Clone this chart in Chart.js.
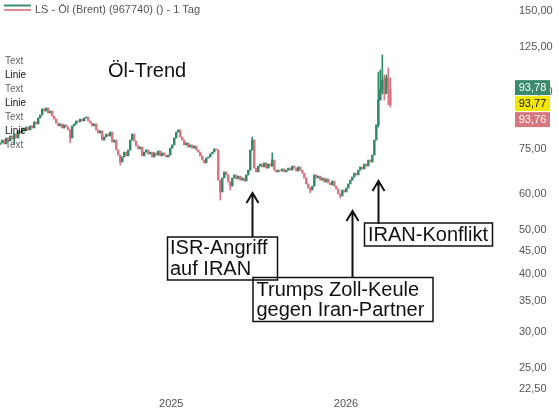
<!DOCTYPE html>
<html lang="de">
<head>
<meta charset="UTF-8">
<title>Öl-Trend</title>
<script src="https://cdn.jsdelivr.net/npm/chart.js"></script>
<style>
    body { margin: 0; background: #fff; }
    canvas { display: block; }
</style>
</head>
<body>
<canvas id="chart" width="559" height="412"></canvas>
<script>
// Brent daily closes, one sample every ~4 calendar days (Jan 2024 - Apr 2026)
const closes = [
    77.4, 78.5, 77.0, 79.3, 78.1, 80.1, 78.9, 80.9, 79.3, 82.2,
    81.3, 83.4, 82.2, 83.8, 82.6, 84.3, 83.4, 86.0, 85.1, 87.7,
    89.0, 91.8, 90.8, 92.2, 89.9, 90.8, 88.5, 87.2, 85.5, 84.3,
    85.1, 83.4, 84.7, 83.8, 82.6, 79.3, 84.3, 85.1, 86.4, 86.0,
    87.2, 86.4, 87.7, 88.1, 86.4, 85.5, 84.3, 85.1, 82.6, 81.3,
    82.2, 78.5, 79.7, 80.9, 80.1, 81.7, 77.7, 78.5, 74.7, 72.8,
    70.3, 72.1, 73.9, 72.5, 74.7, 78.5, 80.9, 78.1, 76.2, 75.1,
    75.8, 72.5, 73.9, 74.7, 73.2, 73.9, 72.1, 73.6, 72.8, 74.3,
    72.5, 73.6, 72.8, 72.1, 72.8, 75.4, 76.6, 79.3, 81.7, 82.6,
    79.7, 78.5, 76.6, 77.4, 75.8, 76.6, 75.4, 76.2, 74.7, 73.9,
    72.5, 71.0, 70.0, 71.7, 72.1, 73.2, 73.9, 75.1, 74.7, 64.2,
    60.5, 64.9, 66.9, 65.9, 63.6, 62.3, 64.9, 65.9, 64.6, 65.5,
    64.2, 64.9, 63.9, 65.9, 67.5, 74.7, 78.5, 68.2, 66.9, 68.9,
    69.6, 68.6, 70.0, 68.2, 69.6, 68.9, 71.0, 67.5, 66.9, 67.5,
    67.2, 67.9, 66.9, 67.5, 68.2, 67.5, 68.9, 68.2, 67.2, 68.6,
    67.5, 66.5, 64.9, 63.0, 61.7, 61.1, 62.3, 65.9, 64.9, 65.5,
    64.2, 64.9, 63.6, 64.6, 63.3, 62.7, 63.9, 62.3, 61.4, 59.9,
    59.3, 61.1, 60.5, 61.7, 63.0, 64.2, 65.2, 66.5, 65.9, 67.5,
    68.6, 67.9, 69.6, 68.9, 71.0, 70.3, 72.8, 78.5, 84.7, 96.0,
    101.4, 106.1, 99.4, 107.2, 101.4, 93.77
];
const firstOpen = 76.8;

// candles with long shadows: [sample, low, high]
const wicks = [
    [7, 76.6, 80.9], [35, 77.4, 82.6], [60, 69.3, 72.8], [110, 58.1, 64.2],
    [115, 61.1, 63.6], [126, 74.7, 79.7], [136, 68.9, 73.6], [155, 60.2, 61.7],
    [170, 58.7, 59.9], [189, 83.8, 110.4], [190, 96.0, 111.6], [191, 98.9, 120.3],
    [192, 96.0, 108.8], [193, 99.0, 108.8], [194, 93.6, 112.7], [195, 92.6, 107.2]
];

const startYear = 2024.021;
const stepYears = 0.01145;
const yearTicks = [2025, 2026];
const priceTicks = [22.5, 25, 30, 35, 40, 45, 50, 60, 75, 100, 125, 150];
const lastPrices = [93.78, 93.77, 93.76];

const green = '#2e8a67';
const red = '#d8737f';
const fontFamily = 'Arial, "Liberation Sans", sans-serif';

const openOf = i => (i > 0 ? closes[i - 1] : firstOpen);
const upOf = i => closes[i] >= openOf(i);

const bodyData = closes.map((c, i) => ({ x: startYear + i * stepYears, y: [openOf(i), c], up: upOf(i) }));
const wickData = wicks.map(([i, lo, hi]) => ({ x: startYear + i * stepYears, y: [lo, hi], up: upOf(i) }));

const overlay = {
    id: 'overlay',
    afterDraw(chart) {
        const ctx = chart.ctx;
        ctx.save();

        // legend
        ctx.lineWidth = 2;
        ctx.strokeStyle = '#3a8f6e';
        ctx.beginPath(); ctx.moveTo(4, 5.5); ctx.lineTo(31, 5.5); ctx.stroke();
        ctx.strokeStyle = '#e08a92';
        ctx.beginPath(); ctx.moveTo(4, 10); ctx.lineTo(31, 10); ctx.stroke();
        ctx.fillStyle = '#555';
        ctx.font = '11px ' + fontFamily;
        ctx.textBaseline = 'alphabetic';
        ctx.fillText('LS - Öl (Brent) (967740) () - 1 Tag', 35, 12.5);

        // drawing-tool labels on the left
        ctx.font = '10px ' + fontFamily;
        ctx.textBaseline = 'middle';
        ['Text', 'Linie', 'Text', 'Linie', 'Text', 'Linie', 'Text'].forEach((t, k) => {
            ctx.fillStyle = t === 'Text' ? '#666' : '#111';
            ctx.fillText(t, 5, 61 + k * 14);
        });

        // title
        ctx.fillStyle = '#111';
        ctx.font = '20px ' + fontFamily;
        ctx.textBaseline = 'alphabetic';
        ctx.fillText('Öl-Trend', 108, 77);

        // arrows
        ctx.strokeStyle = '#111';
        ctx.lineWidth = 2;
        const arrow = (x, tip, end) => {
            ctx.beginPath();
            ctx.moveTo(x, tip); ctx.lineTo(x, end);
            ctx.moveTo(x - 6, tip + 10); ctx.lineTo(x, tip); ctx.lineTo(x + 6, tip + 10);
            ctx.stroke();
        };
        arrow(252.5, 193, 237);
        arrow(352.5, 211, 277);
        arrow(378.5, 181, 224);

        // boxes
        ctx.lineWidth = 1.5;
        ctx.strokeRect(167.5, 237, 110, 43);
        ctx.strokeRect(253, 277.5, 180, 44);
        ctx.strokeRect(364.5, 223, 128, 23);

        ctx.fillStyle = '#111';
        ctx.font = '20px ' + fontFamily;
        ctx.fillText('ISR-Angriff', 170, 254);
        ctx.fillText('auf IRAN', 170, 275);
        ctx.fillText('Trumps Zoll-Keule', 256.5, 295.5);
        ctx.fillText('gegen Iran-Partner', 256.5, 315.5);
        ctx.fillText('IRAN-Konflikt', 368, 240.5);

        // last price badges
        const yMid = chart.scales.y.getPixelForValue(lastPrices[1]);
        const badge = [['#3a8a6c', '#fff'], ['#f3e600', '#111'], ['#d67880', '#fff']];
        ctx.font = '11px ' + fontFamily;
        ctx.textAlign = 'center';
        ctx.textBaseline = 'middle';
        lastPrices.forEach((p, k) => {
            const cy = yMid + (k - 1) * 16 - 1;
            ctx.fillStyle = badge[k][0];
            ctx.fillRect(515, cy - 7.5, 35, 15);
            ctx.fillStyle = badge[k][1];
            ctx.fillText(p.toFixed(2).replace('.', ','), 532.5, cy + 0.5);
        });

        ctx.restore();
    }
};

Chart.defaults.font.family = fontFamily;

new Chart(document.getElementById('chart'), {
    type: 'bar',
    data: {
        datasets: [
            {
                label: 'Docht',
                data: wickData,
                grouped: false,
                barThickness: 1,
                backgroundColor: ctx => (ctx.raw && ctx.raw.up ? green : red)
            },
            {
                label: 'LS - Öl (Brent)',
                data: bodyData,
                grouped: false,
                barThickness: 1.8,
                backgroundColor: ctx => (ctx.raw && ctx.raw.up ? green : red)
            }
        ]
    },
    options: {
        responsive: false,
        animation: false,
        layout: { padding: 0 },
        plugins: {
            legend: { display: false },
            tooltip: { enabled: false }
        },
        scales: {
            x: {
                type: 'linear',
                offset: false,
                min: 2024.02,
                max: 2026.95,
                afterBuildTicks: s => { s.ticks = yearTicks.map(v => ({ value: v })); },
                afterFit: s => { s.height = 22; s.paddingLeft = 0; s.paddingRight = 0; },
                grid: { display: false, drawTicks: false },
                border: { display: false },
                ticks: {
                    autoSkip: false,
                    maxRotation: 0,
                    padding: 7,
                    color: '#555',
                    font: { size: 11 },
                    callback: v => String(v)
                }
            },
            y: {
                type: 'logarithmic',
                position: 'right',
                min: 22.4,
                max: 158.5,
                afterBuildTicks: s => { s.ticks = priceTicks.map(v => ({ value: v })); },
                afterFit: s => { s.width = 47; s.paddingTop = 0; s.paddingBottom = 0; },
                grid: { display: false, drawTicks: false },
                border: { display: false },
                ticks: {
                    autoSkip: false,
                    crossAlign: 'near',
                    padding: 7,
                    color: '#555',
                    font: { size: 11 },
                    callback: v => Number(v).toFixed(2).replace('.', ',')
                }
            }
        }
    },
    plugins: [overlay]
});
</script>
</body>
</html>
